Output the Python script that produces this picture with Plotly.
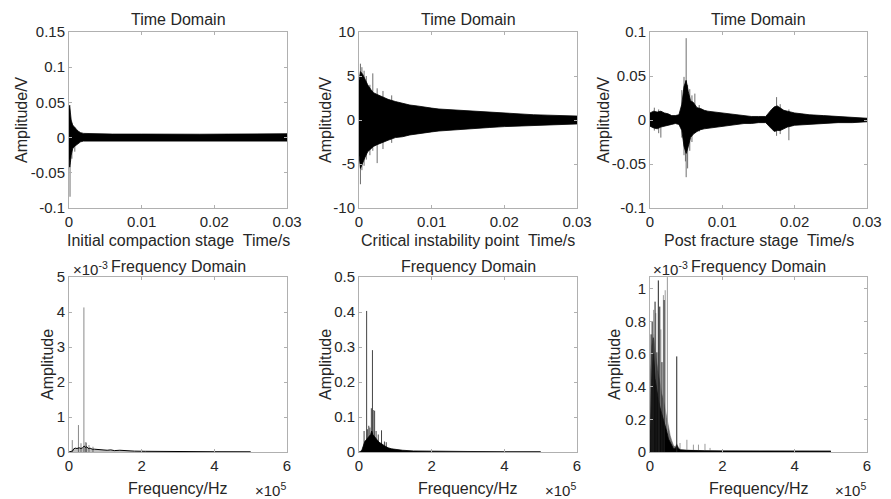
import plotly.graph_objects as go

W, H = 891, 499

# ---------------- data ----------------
# Panel 1: initial compaction stage, time domain (V)
t1 = [0, 0.0001, 0.0002, 0.0003, 0.0005, 0.0007, 0.001, 0.0013, 0.0016, 0.002, 0.003,
      0.006, 0.01, 0.014, 0.018, 0.022, 0.026, 0.03]
up1 = [0.040, 0.046, 0.035, 0.025, 0.018, 0.015, 0.012, 0.009, 0.007, 0.006, 0.0055,
       0.005, 0.005, 0.0045, 0.0048, 0.005, 0.0055, 0.0055]
lo1 = [-0.030, -0.042, -0.035, -0.025, -0.016, -0.013, -0.010, -0.008, -0.006, -0.005, -0.0048,
       -0.0045, -0.0045, -0.004, -0.0042, -0.0045, -0.005, -0.005]
spk1_t = [0.00014, 0.0004, 0.0008]
spk1_hi = [0.02, 0.02, 0.015]
spk1_lo = [-0.084, -0.03, -0.02]

# Panel 2: critical instability point, time domain (V)
t2 = [0, 0.0002, 0.0005, 0.0008, 0.0012, 0.0016, 0.002, 0.0025, 0.003, 0.0035, 0.004, 0.005,
      0.006, 0.007, 0.008, 0.009, 0.010, 0.011, 0.012, 0.013, 0.014, 0.015, 0.016, 0.018,
      0.020, 0.022, 0.024, 0.026, 0.028, 0.030]
up2 = [4.5, 5.5, 5.2, 4.6, 4.0, 3.5, 3.1, 2.9, 2.7, 2.5, 2.35, 2.1, 1.9, 1.7, 1.6, 1.45,
       1.35, 1.25, 1.2, 1.1, 1.05, 1.0, 0.95, 0.85, 0.75, 0.7, 0.6, 0.55, 0.5, 0.45]
lo2 = [-4.0, -5.5, -5.0, -4.3, -3.6, -3.3, -3.0, -2.8, -2.6, -2.45, -2.3, -2.0, -1.9, -1.7,
       -1.6, -1.45, -1.35, -1.25, -1.2, -1.1, -1.05, -1.0, -0.95, -0.85, -0.75, -0.7, -0.6,
       -0.55, -0.5, -0.45]
spk2_t = [0.0002, 0.0004, 0.0007, 0.0010, 0.0015, 0.0019, 0.0025, 0.0033, 0.0045]
spk2_hi = [6.4, 6.0, 5.6, 5.0, 4.0, 5.3, 3.6, 3.3, 2.8]
spk2_lo = [-7.3, -5.7, -5.2, -4.5, -4.0, -3.5, -4.9, -3.3, -2.6]

# Panel 3: post fracture stage, time domain (V)
t3 = [0, 0.0005, 0.001, 0.0015, 0.002, 0.0025, 0.003, 0.0035, 0.004, 0.0044, 0.0047, 0.0050,
      0.0053, 0.0056, 0.006, 0.0065, 0.007, 0.0075, 0.008, 0.009, 0.010, 0.011, 0.012, 0.013,
      0.014, 0.015, 0.016, 0.0168, 0.0172, 0.0176, 0.018, 0.0185, 0.019, 0.0195, 0.020, 0.021,
      0.022, 0.024, 0.026, 0.028, 0.030]
up3 = [0.008, 0.010, 0.009, 0.010, 0.008, 0.007, 0.005, 0.005, 0.006, 0.018, 0.038, 0.045,
       0.032, 0.022, 0.020, 0.014, 0.013, 0.011, 0.010, 0.009, 0.008, 0.007, 0.006, 0.005,
       0.004, 0.004, 0.004, 0.012, 0.015, 0.016, 0.014, 0.011, 0.010, 0.009, 0.008, 0.007,
       0.006, 0.005, 0.004, 0.003, 0.002]
lo3 = [-0.007, -0.009, -0.010, -0.008, -0.007, -0.006, -0.005, -0.004, -0.005, -0.012, -0.030,
       -0.038, -0.030, -0.020, -0.016, -0.013, -0.011, -0.010, -0.009, -0.008, -0.007, -0.006,
       -0.005, -0.004, -0.004, -0.003, -0.003, -0.010, -0.013, -0.012, -0.012, -0.010, -0.008,
       -0.007, -0.006, -0.005, -0.005, -0.004, -0.003, -0.003, -0.002]
spk3_t = [0.0006, 0.0012, 0.0015, 0.0044, 0.0047, 0.0049, 0.0050, 0.0052, 0.0055, 0.0058,
          0.0062, 0.0068, 0.0175, 0.0180, 0.0192]
spk3_hi = [0.014, 0.012, 0.010, 0.034, 0.049, 0.045, 0.093, 0.040, 0.035, 0.028, 0.030,
           0.017, 0.026, 0.018, 0.012]
spk3_lo = [-0.012, -0.015, -0.020, -0.020, -0.040, -0.047, -0.065, -0.055, -0.035, -0.025,
           -0.015, -0.013, -0.018, -0.016, -0.023]

# Panel 4: frequency domain, initial compaction (amplitude x1e-3)
f4 = [0, 0.05e5, 0.10e5, 0.13e5, 0.17e5, 0.22e5, 0.28e5, 0.33e5, 0.37e5, 0.42e5, 0.45e5,
      0.49e5, 0.53e5, 0.58e5, 0.64e5, 0.70e5, 0.77e5, 0.85e5, 0.95e5, 1.05e5, 1.15e5, 1.25e5,
      1.4e5, 1.6e5, 1.8e5, 2.1e5, 2.5e5, 3e5, 4e5, 5e5]
a4 = [0, 0.01, 0.03, 0.09, 0.11, 0.10, 0.12, 0.10, 0.12, 0.17, 0.13, 0.15, 0.10, 0.11, 0.08,
      0.08, 0.07, 0.06, 0.05, 0.05, 0.06, 0.04, 0.05, 0.03, 0.025, 0.02, 0.015, 0.01, 0.008, 0.006]
spk4_f = [0.09e5, 0.26e5, 0.33e5, 0.41e5, 0.45e5, 0.48e5, 0.55e5, 0.66e5, 2.0e5]
spk4_a = [0.34, 0.77, 0.25, 4.13, 0.28, 0.27, 0.2, 0.15, 0.06]

# Panel 5: frequency domain, critical instability point
f5 = [0, 0.05e5, 0.08e5, 0.12e5, 0.16e5, 0.20e5, 0.24e5, 0.28e5, 0.32e5, 0.35e5, 0.38e5,
      0.42e5, 0.46e5, 0.50e5, 0.55e5, 0.60e5, 0.65e5, 0.70e5, 0.75e5, 0.80e5, 0.90e5, 1.0e5,
      1.2e5, 1.5e5, 2e5, 3e5, 4e5, 5e5]
a5 = [0, 0.002, 0.006, 0.02, 0.03, 0.035, 0.04, 0.045, 0.05, 0.06, 0.05, 0.045, 0.04, 0.032,
      0.028, 0.025, 0.02, 0.018, 0.015, 0.012, 0.009, 0.007, 0.005, 0.003, 0.002, 0.0015,
      0.001, 0.001]
spk5_f = [0.14e5, 0.21e5, 0.23e5, 0.27e5, 0.30e5, 0.34e5, 0.37e5, 0.39e5, 0.43e5, 0.47e5,
          0.53e5, 0.62e5, 0.70e5, 0.75e5]
spk5_a = [0.06, 0.403, 0.065, 0.075, 0.07, 0.125, 0.291, 0.12, 0.118, 0.06, 0.05, 0.062,
          0.03, 0.028]

# Panel 6: frequency domain, post fracture stage (amplitude x1e-3)
f6 = [0, 0.02e5, 0.05e5, 0.08e5, 0.10e5, 0.14e5, 0.18e5, 0.23e5, 0.28e5, 0.32e5, 0.37e5,
      0.42e5, 0.47e5, 0.51e5, 0.56e5, 0.60e5, 0.65e5, 0.70e5, 0.74e5, 0.78e5, 0.85e5, 1.0e5,
      1.2e5, 1.5e5, 2e5, 3e5, 4e5, 5e5]
a6 = [0, 0.2, 0.45, 0.55, 0.6, 0.45, 0.38, 0.32, 0.27, 0.24, 0.2, 0.16, 0.12, 0.08, 0.06,
      0.045, 0.02, 0.02, 0.04, 0.02, 0.012, 0.01, 0.008, 0.007, 0.006, 0.005, 0.005, 0.005]
a6_outer = [0, 0.5, 0.65, 0.7, 0.72, 0.62, 0.55, 0.48, 0.42, 0.36, 0.32, 0.26, 0.2, 0.14,
            0.1, 0.07, 0.04, 0.03, 0.05, 0.03, 0.015, 0.012, 0.01, 0.008, 0.007, 0.006,
            0.006, 0.006]
spk6k_f = [0.03e5, 0.06e5, 0.09e5, 0.14e5, 0.19e5, 0.23e5, 0.27e5, 0.33e5, 0.39e5, 0.74e5]
spk6k_a = [0.72, 0.80, 0.70, 0.92, 0.61, 1.05, 0.89, 0.55, 0.93, 0.585]
spk6g_f = [0.04e5, 0.10e5, 0.16e5, 0.30e5, 0.37e5, 0.42e5, 0.48e5, 0.83e5, 1.02e5, 1.2e5,
           1.34e5, 1.52e5, 1.66e5]
spk6g_a = [0.60, 0.87, 0.85, 0.75, 0.96, 0.99, 1.07, 0.055, 0.075, 0.045, 0.045, 0.05, 0.025]

time_labels = ["Initial compaction stage\u00a0 Time/s",
               "Critical instability point\u00a0 Time/s",
               "Post fracture stage\u00a0 Time/s"]

# ---------------- layout geometry (pixels) ----------------
cols_px = [(69, 287), (359, 577), (650, 867)]
rows_px = [(32, 208), (277, 452)]
FONT = "Liberation Sans, Arial, sans-serif"
TXT = "#262626"
AX = "#b0b0b0"

fig = go.Figure()


def ax_name(i):
    return ("x" if i == 1 else f"x{i}"), ("y" if i == 1 else f"y{i}")


def segs(xs, lo, hi):
    X, Y = [], []
    for x, l, h in zip(xs, lo, hi):
        X += [x, x, None]
        Y += [l, h, None]
    return X, Y


def add_band(i, t, up, lo, spt, sphi, splo):
    xa, ya = ax_name(i)
    X, Y = segs(spt, splo, sphi)
    fig.add_trace(go.Scatter(x=X, y=Y, mode="lines", line=dict(color="#6e6e6e", width=1),
                             xaxis=xa, yaxis=ya, hoverinfo="skip"))
    fig.add_trace(go.Scatter(x=list(t) + list(t)[::-1], y=list(up) + list(lo)[::-1],
                             mode="lines", fill="toself", fillcolor="black",
                             line=dict(color="black", width=0.8),
                             xaxis=xa, yaxis=ya, hoverinfo="skip"))


def add_spec(i, f, a, spf, spa, color, fillcol, width=1.0):
    xa, ya = ax_name(i)
    X, Y = segs(spf, [0] * len(spf), spa)
    fig.add_trace(go.Scatter(x=X, y=Y, mode="lines", line=dict(color=color, width=1),
                             xaxis=xa, yaxis=ya, hoverinfo="skip"))
    fig.add_trace(go.Scatter(x=f, y=a, mode="lines", fill="tozeroy", fillcolor=fillcol,
                             line=dict(color="black", width=width),
                             xaxis=xa, yaxis=ya, hoverinfo="skip"))


add_band(1, t1, up1, lo1, spk1_t, spk1_hi, spk1_lo)
add_band(2, t2, up2, lo2, spk2_t, spk2_hi, spk2_lo)
add_band(3, t3, up3, lo3, spk3_t, spk3_hi, spk3_lo)
add_spec(4, f4, a4, spk4_f, spk4_a, "#8a8a8a", "rgba(0,0,0,0.25)", 1.0)
add_spec(5, f5, a5, spk5_f, spk5_a, "#444444", "black", 0.8)
# panel 6: outer gray haze, gray spikes, black spikes, black core
fig.add_trace(go.Scatter(x=f6, y=a6_outer, mode="lines", fill="tozeroy", fillcolor="#6a6a6a",
                         line=dict(color="#6a6a6a", width=0.5), xaxis="x6", yaxis="y6",
                         hoverinfo="skip"))
add_spec(6, f6, a6, spk6g_f, spk6g_a, "#9a9a9a", "black", 0.8)
Xk, Yk = segs(spk6k_f, [0] * len(spk6k_f), spk6k_a)
fig.add_trace(go.Scatter(x=Xk, y=Yk, mode="lines", line=dict(color="#222222", width=1),
                         xaxis="x6", yaxis="y6", hoverinfo="skip"))

common = dict(showline=True, linecolor=AX, linewidth=1, mirror="ticks", ticks="inside",
              ticklen=3, tickcolor=AX, showgrid=False, zeroline=False, fixedrange=True,
              automargin=False,
              tickfont=dict(family=FONT, size=15, color=TXT))

yspecs = {
    1: ([-0.1, 0.15], [-0.1, -0.05, 0, 0.05, 0.1, 0.15], ["-0.1", "-0.05", "0", "0.05", "0.1", "0.15"]),
    2: ([-10, 10], [-10, -5, 0, 5, 10], ["-10", "-5", "0", "5", "10"]),
    3: ([-0.1, 0.1], [-0.1, -0.05, 0, 0.05, 0.1], ["-0.1", "-0.05", "0", "0.05", "0.1"]),
    4: ([0, 5], [0, 1, 2, 3, 4, 5], ["0", "1", "2", "3", "4", "5"]),
    5: ([0, 0.5], [0, 0.1, 0.2, 0.3, 0.4, 0.5], ["0", "0.1", "0.2", "0.3", "0.4", "0.5"]),
    6: ([0, 1.071], [0, 0.2, 0.4, 0.6, 0.8, 1.0], ["0", "0.2", "0.4", "0.6", "0.8", "1"]),
}

lay = {}
for i in range(1, 7):
    r, c = (i - 1) // 3, (i - 1) % 3
    x0, x1 = cols_px[c]
    top, bot = rows_px[r]
    xk = "xaxis" if i == 1 else f"xaxis{i}"
    yk = "yaxis" if i == 1 else f"yaxis{i}"
    ya = "y" if i == 1 else f"y{i}"
    xa = "x" if i == 1 else f"x{i}"
    if r == 0:
        xr, xt, xtt = [0, 0.03], [0, 0.01, 0.02, 0.03], ["0", "0.01", "0.02", "0.03"]
    else:
        xr, xt, xtt = [0, 6e5], [0, 2e5, 4e5, 6e5], ["0", "2", "4", "6"]
    lay[xk] = dict(common, domain=[x0 / W, x1 / W], range=xr, tickvals=xt, ticktext=xtt,
                   anchor=ya)
    yr, yt, ytt = yspecs[i]
    lay[yk] = dict(common, domain=[1 - bot / H, 1 - top / H], range=yr, tickvals=yt,
                   ticktext=ytt, anchor=xa)

ann = []


def A(text, x, y, size=16, xanchor="center", yanchor="middle", angle=0):
    ann.append(dict(text=text, x=x / W, y=1 - y / H, xref="paper", yref="paper",
                    showarrow=False, xanchor=xanchor, yanchor=yanchor, textangle=angle,
                    font=dict(family=FONT, size=size, color=TXT)))


for c in range(3):
    x0, x1 = cols_px[c]
    cx = (x0 + x1) / 2
    A("Time Domain", cx, 19)
    A(time_labels[c], cx, 241)
    A("Frequency Domain", cx, 266)
    A("Frequency/Hz", cx, 488)
    A("\u00d710<sup>5</sup>", x1 + 1, 489, size=15, xanchor="right")

A("Amplitude/V", 21, 120, angle=-90)
A("Amplitude/V", 325, 120, angle=-90)
A("Amplitude/V", 603, 120, angle=-90)
A("Amplitude", 47, 365, angle=-90)
A("Amplitude", 325, 365, angle=-90)
A("Amplitude", 614, 365, angle=-90)
A("\u00d710<sup>-3</sup>", 71, 268, size=15, xanchor="left")
A("\u00d710<sup>-3</sup>", 651, 268, size=15, xanchor="left")

fig.update_layout(width=W, height=H, margin=dict(l=0, r=0, t=0, b=0),
                  paper_bgcolor="white", plot_bgcolor="white", showlegend=False,
                  annotations=ann, **lay)

fig.write_html("out.html", config={"displayModeBar": False},
               post_script="document.body.style.margin='0';document.body.style.padding='0';"
                           "document.body.style.overflow='hidden';")
